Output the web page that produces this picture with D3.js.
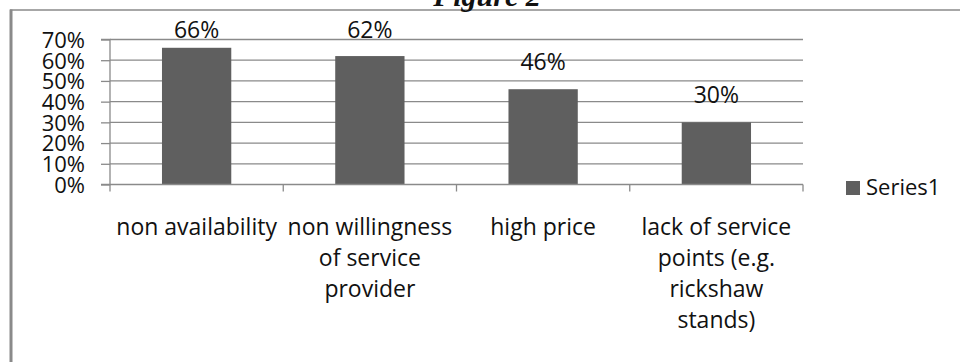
<!DOCTYPE html>
<html>
<head>
<meta charset="utf-8">
<script src="https://cdn.jsdelivr.net/npm/d3@7"></script>
<style>
  html, body { margin: 0; padding: 0; background: #fff; }
  svg { display: block; }
  text { font-family: "Open Sans", sans-serif; fill: #111; }
</style>
</head>
<body>
<svg id="chart" width="960" height="362"></svg>
<script>
const categories = [
  ["non availability"],
  ["non willingness", "of service", "provider"],
  ["high price"],
  ["lack of service", "points (e.g.", "rickshaw", "stands)"]
];
const values = [0.66, 0.62, 0.46, 0.30];
const yTicks = [0, 0.1, 0.2, 0.3, 0.4, 0.5, 0.6, 0.7];
const seriesName = "Series1";
const titleText = "Figure 2";

const svg = d3.select("#chart");
const gridColor = "#8a8a8a";
const barColor = "#5f5f5f";

const plot = { left: 110, right: 803, top: 39.5, bottom: 184.5 };

const x = d3.scaleBand()
  .domain(d3.range(values.length))
  .range([plot.left, plot.right])
  .paddingInner(0.6)
  .paddingOuter(0.3);

const y = d3.scaleLinear().domain([0, 0.7]).range([plot.bottom, plot.top]);

// frame
svg.append("line").attr("x1", 10).attr("x2", 960).attr("y1", 10).attr("y2", 10)
  .attr("stroke", "#8a8a8a").attr("stroke-width", 1.5);
svg.append("line").attr("x1", 11).attr("x2", 11).attr("y1", 9.5).attr("y2", 362)
  .attr("stroke", "#8a8a8a").attr("stroke-width", 3);

// title (clipped at top)
svg.append("text").attr("x", 487).attr("y", 6).attr("text-anchor", "middle")
  .style("font-family", "'Liberation Serif', 'Times New Roman', serif")
  .style("font-weight", "bold").style("font-style", "italic").style("font-size", "30px")
  .text(titleText);

// gridlines
svg.append("g").selectAll("line").data(yTicks.slice(1)).join("line")
  .attr("x1", plot.left).attr("x2", plot.right)
  .attr("y1", d => y(d)).attr("y2", d => y(d))
  .attr("stroke", gridColor).attr("stroke-width", 1.3);

// y axis
const yAxis = svg.append("g").attr("transform", `translate(${plot.left},0)`)
  .call(d3.axisLeft(y).tickValues(yTicks).tickFormat(d3.format(".0%")).tickSize(9).tickPadding(16));
yAxis.selectAll("path, line").attr("stroke", gridColor).attr("stroke-width", 1.3);
yAxis.select(".domain").attr("d", `M-9,${y(0.7)}H0V${y(0)}H-9`);
yAxis.selectAll("text").style("font-family", "'Open Sans', sans-serif").style("font-size", "22px")
  .attr("fill", "#111").attr("dy", "0.36em");

// bars
svg.append("g").selectAll("rect").data(values).join("rect")
  .attr("x", (d, i) => x(i)).attr("width", x.bandwidth())
  .attr("y", d => y(d)).attr("height", d => y(0) - y(d))
  .attr("fill", barColor);

// x axis line with boundary ticks
svg.append("line").attr("x1", plot.left).attr("x2", plot.right)
  .attr("y1", y(0)).attr("y2", y(0)).attr("stroke", gridColor).attr("stroke-width", 1.5);
const bounds = d3.range(values.length + 1).map(i => plot.left + i * x.step() * (values.length === 0 ? 0 : 1) * ((plot.right - plot.left) / (x.step() * values.length)));
svg.append("g").selectAll("line").data(bounds).join("line")
  .attr("x1", d => d).attr("x2", d => d)
  .attr("y1", y(0)).attr("y2", y(0) + 7)
  .attr("stroke", gridColor).attr("stroke-width", 1.3);

// data labels
svg.append("g").selectAll("text").data(values).join("text")
  .attr("x", (d, i) => x(i) + x.bandwidth() / 2)
  .attr("y", d => Math.max(y(d) - 19, 38))
  .attr("text-anchor", "middle").style("font-size", "23px")
  .text(d => d3.format(".0%")(d));

// category labels
const catG = svg.append("g");
categories.forEach((lines, i) => {
  const t = catG.append("text")
    .attr("x", x(i) + x.bandwidth() / 2)
    .attr("y", 235)
    .attr("text-anchor", "middle").style("font-size", "23px");
  lines.forEach((ln, j) => {
    t.append("tspan").attr("x", x(i) + x.bandwidth() / 2)
      .attr("y", 235 + j * 31).text(ln);
  });
});

// legend
svg.append("rect").attr("x", 846).attr("y", 181).attr("width", 14).attr("height", 14).attr("fill", barColor);
svg.append("text").attr("x", 866).attr("y", 195).style("font-size", "22px").text(seriesName);
</script>
</body>
</html>
